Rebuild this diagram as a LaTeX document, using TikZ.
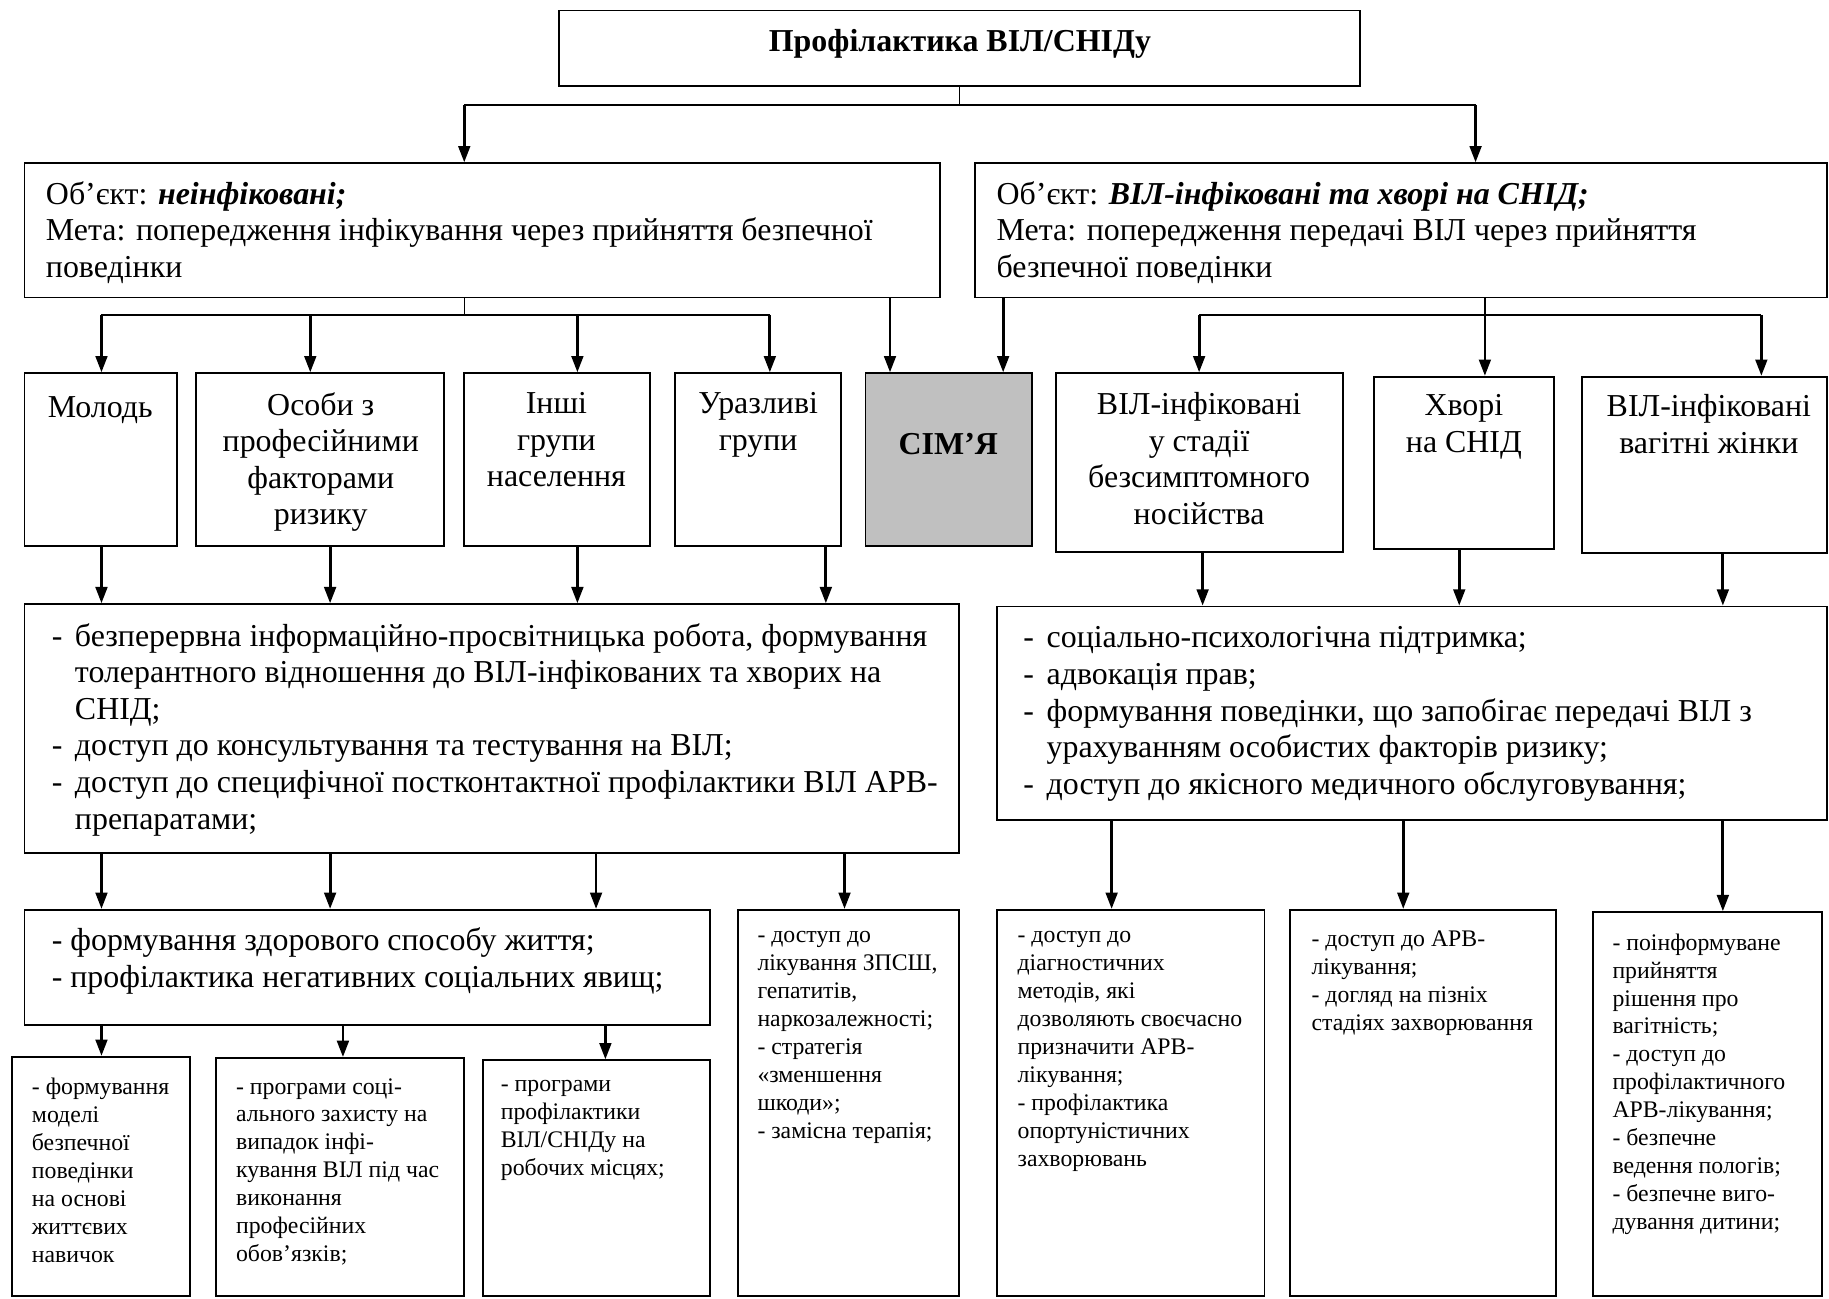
\documentclass[tikz,border=0pt]{standalone}
\usepackage{fontspec}
\setmainfont{Liberation Serif}
\usepackage{xcolor}
\usetikzlibrary{arrows.meta, fit}

\definecolor{simgray}{HTML}{C0C0C0}
\newcommand{\dashmark}{\makebox[0.35cm][l]{-}}
\newcommand{\dashgap}{\hspace*{0.35cm}}

\begin{document}
\begin{tikzpicture}[
  x=0.176mm, y=-0.176mm,
  box/.style={draw, line width=0.8pt, inner sep=0pt},
  txt/.style={inner sep=0pt, align=left, anchor=north west, execute at begin node=\strut},
  big/.style={txt, font=\fontsize{13.7}{15.7}\selectfont},
  small/.style={txt, font=\fontsize{10.2}{12}\selectfont},
  mid/.style={big, align=center, anchor=north},
  arr/.style={line width=1.2pt, -{Triangle[length=7pt, width=5pt]}},
  bar/.style={line width=1.2pt},
  stub/.style={line width=0.6pt}
]
\useasboundingbox (0,0) rectangle (1568,1113);

% top
\node[box, fit={(479,9) (1166,74)}] (top) {};
\node[font=\fontsize{13.7}{15.7}\selectfont\bfseries] (toptxt) at (823,38) {Профілактика ВІЛ/СНІДу};

% objects
\node[box, fit={(21,140) (806,255)}] (objL) {};
\node[big] (objLtxt) at (39,155) {Об’єкт: \textbf{\textit{неінфіковані;}}\\Мета: попередження інфікування через прийняття безпечної\\поведінки};
\node[box, fit={(836,140) (1566,255)}] (objR) {};
\node[big] (objRtxt) at (854,155) {Об’єкт: \textbf{\textit{ВІЛ-інфіковані та хворі на СНІД;}}\\Мета: попередження передачі ВІЛ через прийняття\\безпечної поведінки};

% groups
\node[box, fit={(21,320) (152,468)}] (mol) {};
\node[mid] (moltxt) at (86,336) {Молодь};
\node[box, fit={(168,320) (381,468)}] (osob) {};
\node[mid] (osobtxt) at (275,336) {Особи з\\професійними\\факторами\\ризику};
\node[box, fit={(398,320) (557,468)}] (insh) {};
\node[mid] (inshtxt) at (477,336) {Інші\\групи\\населення};
\node[box, fit={(579,320) (721,468)}] (uraz) {};
\node[mid] (uraztxt) at (650,336) {Уразливі\\групи};
\node[box, fill=simgray, fit={(742,320) (885,468)}] (sim) {};
\node[font=\fontsize{13.7}{15.7}\selectfont\bfseries] (simtxt) at (813,381) {СІМ’Я};
\node[box, fit={(905,320) (1151,473)}] (vil) {};
\node[mid] (viltxt) at (1028,336) {ВІЛ-інфіковані\\у стадії\\безсимптомного\\носійства};
\node[box, fit={(1178,323) (1332,471)}] (hvor) {};
\node[mid] (hvortxt) at (1255,338) {Хворі\\на СНІД};
\node[box, fit={(1356,323) (1566,474)}] (vag) {};
\node[mid] (vagtxt) at (1465,338) {ВІЛ-інфіковані\\вагітні жінки};

% measures
\node[box, fit={(21,518) (822,731)}] (bigL) {};
\node[big] (bigLtxt) at (44,534) {\dashmark безперервна інформаційно-просвітницька робота, формування\\\dashgap толерантного відношення до ВІЛ-інфікованих та хворих на\\\dashgap СНІД;\\\dashmark доступ до консультування та тестування на ВІЛ;\\\dashmark доступ до специфічної постконтактної профілактики ВІЛ АРВ-\\\dashgap препаратами;};
\node[box, fit={(855,520) (1566,703)}] (bigR) {};
\node[big] (bigRtxt) at (877,537) {\dashmark соціально-психологічна підтримка;\\\dashmark адвокація прав;\\\dashmark формування поведінки, що запобігає передачі ВІЛ з\\\dashgap урахуванням особистих факторів ризику;\\\dashmark доступ до якісного медичного обслуговування;};

\node[box, fit={(21,780) (609,879)}] (zdor) {};
\node[big] (zdortxt) at (44,795) {- формування здорового способу життя;\\- профілактика негативних соціальних явищ;};
\node[box, fit={(633,780) (822,1111)}] (likuv) {};
\node[small] (likuvtxt) at (649,798) {- доступ до\\лікування ЗПСШ,\\гепатитів,\\наркозалежності;\\- стратегія\\«зменшення\\шкоди»;\\- замісна терапія;};
\node[box, fit={(855,780) (1084,1111)}] (diag) {};
\node[small] (diagtxt) at (872,798) {- доступ до\\діагностичних\\методів, які\\дозволяють своєчасно\\призначити АРВ-\\лікування;\\- профілактика\\опортуністичних\\захворювань};
\node[box, fit={(1106,780) (1334,1111)}] (arv) {};
\node[small] (arvtxt) at (1124,798) {- доступ до АРВ-\\лікування;\\- догляд на пізніх\\стадіях захворювання};
\node[box, fit={(1366,782) (1562,1111)}] (vagit) {};
\node[small] (vagittxt) at (1382,800) {- поінформуване\\прийняття\\рішення про\\вагітність;\\- доступ до\\профілактичного\\АРВ-лікування;\\- безпечне\\ведення пологів;\\- безпечне виго-\\дування дитини;};

\node[box, fit={(10,906) (163,1111)}] (model) {};
\node[small] (modeltxt) at (27,924) {- формування\\моделі\\безпечної\\поведінки\\на основі\\життєвих\\навичок};
\node[box, fit={(185,907) (398,1111)}] (soc) {};
\node[small] (soctxt) at (202,924) {- програми соці-\\ального захисту на\\випадок інфі-\\кування ВІЛ під час\\виконання\\професійних\\обов’язків;};
\node[box, fit={(414,909) (609,1111)}] (rob) {};
\node[small] (robtxt) at (429,926) {- програми\\профілактики\\ВІЛ/СНІДу на\\робочих місцях;};

% connectors
\coordinate (t1) at (398,90);
\coordinate (t2) at (1265,90);
\draw[stub] (top.south) -- (top.south |- t1);
\draw[bar] (t1) -- (t2);
\draw[arr] (t1) -- (t1 |- objL.north);
\draw[arr] (t2) -- (t2 |- objR.north);

\coordinate (l1) at (87,270);
\coordinate (l2) at (660,270);
\draw[stub] (objL.south -| 398,0) -- (l1 -| 398,0);
\draw[bar] (l1) -- (l2);
\foreach \x in {87,266,495,660}
  \draw[arr] (l1 -| \x,0) -- (mol.north -| \x,0);

\draw[arr] (objL.south -| 763,0) -- (sim.north -| 763,0);
\draw[arr] (objR.south -| 860,0) -- (sim.north -| 860,0);

\coordinate (r1) at (1028,270);
\coordinate (r2) at (1510,270);
\draw[stub] (objR.south -| 1273,0) -- (r1 -| 1273,0);
\draw[bar] (r1) -- (r2);
\draw[arr] (r1) -- (r1 |- vil.north);
\draw[arr] (r1 -| 1273,0) -- (hvor.north -| 1273,0);
\draw[arr] (r2) -- (r2 |- vag.north);

\foreach \a/\x in {mol/87, osob/283, insh/495, uraz/708}
  \draw[arr] (\a.south -| \x,0) -- (bigL.north -| \x,0);
\foreach \a/\x in {vil/1031, hvor/1251, vag/1477}
  \draw[arr] (\a.south -| \x,0) -- (bigR.north -| \x,0);

\foreach \x in {87,283,511}
  \draw[arr] (bigL.south -| \x,0) -- (zdor.north -| \x,0);
\draw[arr] (bigL.south -| 724,0) -- (likuv.north -| 724,0);
\foreach \b/\x in {diag/953, arv/1203, vagit/1477}
  \draw[arr] (bigR.south -| \x,0) -- (\b.north -| \x,0);
\foreach \b/\x in {model/87, soc/294, rob/519}
  \draw[arr] (zdor.south -| \x,0) -- (\b.north -| \x,0);
\end{tikzpicture}
\end{document}
